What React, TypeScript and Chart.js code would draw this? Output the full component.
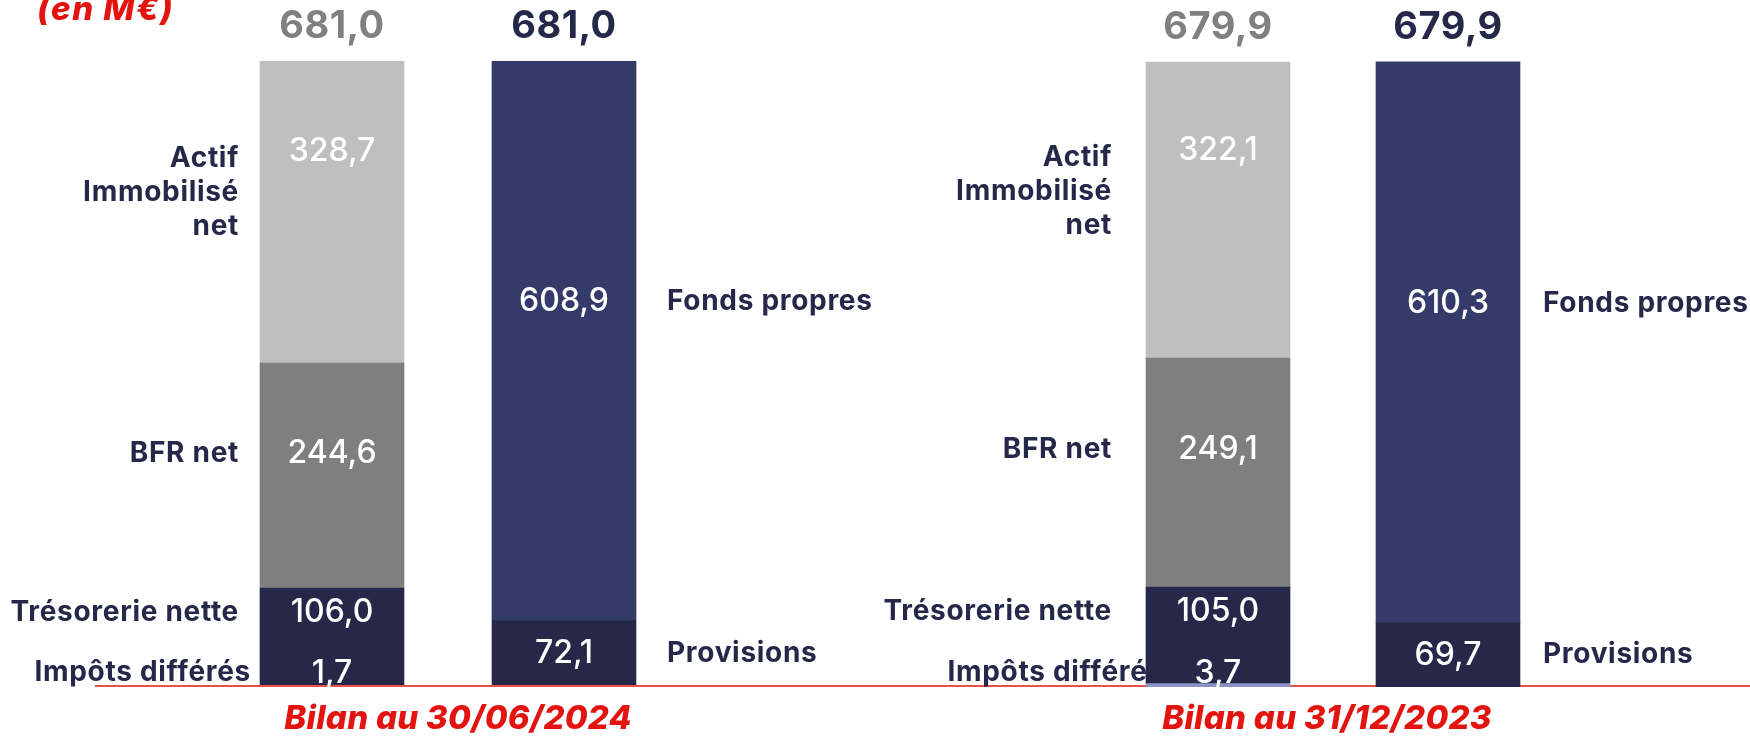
import React, { useEffect, useRef } from 'react';
import { Chart, registerables } from 'chart.js';

Chart.register(...registerables);

// ---------- DATA ----------
const barKeys = ['Actif', 'Passif'];
const periodTitles = ['Bilan au 30/06/2024', 'Bilan au 31/12/2023'];
const unitLabel = '(en M€)';

const totalActif = [681.0, 679.9];
const totalPassif = [681.0, 679.9];

const impotsDifferes = [1.7, 3.7];
const tresorerieNette = [106.0, 105.0];
const bfrNet = [244.6, 249.1];
const actifImmobiliseNet = [328.7, 322.1];
const provisions = [72.1, 69.7];
const fondsPropres = [608.9, 610.3];

// ---------- SERIES STYLE ----------
type Series = {
  name: string;
  lines: string[];
  values: number[];
  bar: number; // 0 = Actif, 1 = Passif
  color: string;
  frac: number; // label anchor within the segment (from top), -1 = near base
};

const SERIES: Series[] = [
  { name: 'Impôts différés', lines: ['Impôts différés'], values: impotsDifferes, bar: 0, color: '#8e95c6', frac: -1 },
  { name: 'Trésorerie nette', lines: ['Trésorerie nette'], values: tresorerieNette, bar: 0, color: '#252849', frac: 0.25 },
  { name: 'BFR net', lines: ['BFR net'], values: bfrNet, bar: 0, color: '#7f7f7f', frac: 0.4 },
  { name: 'Actif Immobilisé net', lines: ['Actif', 'Immobilisé', 'net'], values: actifImmobiliseNet, bar: 0, color: '#bfbfbf', frac: 0.3 },
  { name: 'Provisions', lines: ['Provisions'], values: provisions, bar: 1, color: '#252849', frac: 0.5 },
  { name: 'Fonds propres', lines: ['Fonds propres'], values: fondsPropres, bar: 1, color: '#343a69', frac: 0.43 },
];

type PanelCfg = {
  left: number;
  width: number;
  padLeft: number;
  padRight: number;
  lineFrom: number;
  lineOnTop: boolean;
  leftGap: number;
  impotsShift: number;
  rightGap: number;
  titleShift: number;
  showUnit: boolean;
};

const PANELS: PanelCfg[] = [
  { left: 0, width: 875, padLeft: 216, padRight: 195, lineFrom: 95, lineOnTop: true, leftGap: 21, impotsShift: 12, rightGap: 31, titleShift: 10, showUnit: true },
  { left: 875, width: 875, padLeft: 228, padRight: 187, lineFrom: 0, lineOnTop: false, leftGap: 34, impotsShift: 52, rightGap: 23, titleShift: -6, showUnit: false },
];

const NAVY = '#252849';
const RED = '#e3140f';
const FONT = 'Inter, "Noto Sans", sans-serif';
const fmt = (v: number) => v.toFixed(1).replace('.', ',');

function Panel({ idx, cfg }: { idx: number; cfg: PanelCfg }) {
  const ref = useRef<HTMLCanvasElement | null>(null);

  useEffect(() => {
    if (!ref.current) return;
    const yMax = Math.max(...totalActif, ...totalPassif);

    const datasets = SERIES.map((s) => ({
      label: s.name,
      data: barKeys.map((_, b) => (b === s.bar ? s.values[idx] : null)),
      backgroundColor: s.color,
      borderWidth: 0,
      barThickness: 144,
      stack: 'bilan',
    }));

    const segment = (chart: any, i: number) => {
      const el: any = chart.getDatasetMeta(i).data[SERIES[i].bar];
      const top = Math.min(el.y, el.base);
      const bottom = Math.max(el.y, el.base);
      return { x: el.x, w: el.width, top, bottom };
    };

    const labelY = (chart: any, i: number) => {
      const seg = segment(chart, i);
      const s = SERIES[i];
      if (s.frac < 0) return seg.bottom - 14;
      return seg.top + s.frac * (seg.bottom - seg.top);
    };

    const drawLine = (chart: any) => {
      const ctx = chart.ctx;
      const y0 = chart.scales.y.getPixelForValue(0) - 1;
      ctx.save();
      ctx.strokeStyle = '#e8504b';
      ctx.lineWidth = 1.8;
      ctx.beginPath();
      ctx.moveTo(cfg.lineFrom, y0);
      ctx.lineTo(chart.width, y0);
      ctx.stroke();
      ctx.restore();
    };

    const plugin = {
      id: 'bilanText',
      beforeDatasetsDraw(chart: any) {
        const ctx = chart.ctx;
        if (!cfg.lineOnTop) drawLine(chart);
        // category labels
        ctx.save();
        ctx.fillStyle = NAVY;
        ctx.font = `700 28px ${FONT}`;
        (ctx as any).letterSpacing = '0.7px';
        ctx.textBaseline = 'middle';
        SERIES.forEach((s, i) => {
          const seg = segment(chart, i);
          const y = labelY(chart, i);
          if (s.bar === 0) {
            ctx.textAlign = 'right';
            const shift = s.frac < 0 ? cfg.impotsShift : 0;
            const x = seg.x - seg.w / 2 - cfg.leftGap + shift;
            s.lines.forEach((line, k) => ctx.fillText(line, x, y + (s.lines.length > 1 ? 7 : 0) + k * 34));
          } else {
            ctx.textAlign = 'left';
            const x = seg.x + seg.w / 2 + cfg.rightGap;
            s.lines.forEach((line, k) => ctx.fillText(line, x, y + k * 34));
          }
        });
        ctx.restore();
      },
      afterDatasetsDraw(chart: any) {
        const ctx = chart.ctx;
        if (cfg.lineOnTop) drawLine(chart);
        ctx.save();
        // values inside bars
        ctx.fillStyle = '#ffffff';
        ctx.font = `500 32px ${FONT}`;
        ctx.textAlign = 'center';
        ctx.textBaseline = 'middle';
        SERIES.forEach((s, i) => {
          const seg = segment(chart, i);
          ctx.fillText(fmt(s.values[idx]), seg.x, labelY(chart, i));
        });
        // totals above bars
        ctx.font = `700 38px ${FONT}`;
        (ctx as any).letterSpacing = '0.5px';
        const totals = [totalActif[idx], totalPassif[idx]];
        const totalColors = ['#808080', NAVY];
        barKeys.forEach((_, b) => {
          const i = SERIES.findIndex((s) => s.bar === b);
          const x = segment(chart, i).x;
          const yTop = chart.scales.y.getPixelForValue(totals[b]);
          ctx.fillStyle = totalColors[b];
          ctx.fillText(fmt(totals[b]), x, yTop - 34);
        });
        // period title
        const area = chart.chartArea;
        ctx.fillStyle = RED;
        ctx.font = `italic 800 33px ${FONT}`;
        (ctx as any).letterSpacing = '0.3px';
        ctx.fillText(periodTitles[idx], (area.left + area.right) / 2 + cfg.titleShift, chart.scales.y.getPixelForValue(0) + 32);
        if (cfg.showUnit) {
          ctx.textAlign = 'left';
          ctx.textBaseline = 'alphabetic';
          ctx.font = `italic 800 33px ${FONT}`;
          (ctx as any).letterSpacing = '1.5px';
          ctx.fillText(unitLabel, 37, 20);
        }
        ctx.restore();
      },
    };

    const chart = new Chart(ref.current, {
      type: 'bar',
      data: { labels: barKeys, datasets },
      options: {
        responsive: false,
        animation: false,
        devicePixelRatio: 1,
        layout: { padding: { left: cfg.padLeft, right: cfg.padRight, top: 61, bottom: 49 } },
        plugins: { legend: { display: false }, tooltip: { enabled: false }, title: { display: false } },
        scales: {
          x: { display: false, stacked: true, offset: true, grid: { display: false } },
          y: { display: false, stacked: true, min: 0, max: yMax, grid: { display: false } },
        },
      },
      plugins: [plugin],
    });
    return () => chart.destroy();
  }, [idx, cfg]);

  return (
    <canvas
      ref={ref}
      width={cfg.width}
      height={736}
      style={{ position: 'absolute', left: cfg.left, top: 0, width: cfg.width, height: 736, display: 'block' }}
    />
  );
}

export default function App() {
  return (
    <div style={{ position: 'absolute', left: 0, top: 0, width: 1750, height: 736, background: '#ffffff', overflow: 'hidden' }}>
      {PANELS.map((cfg, i) => (
        <Panel key={i} idx={i} cfg={cfg} />
      ))}
    </div>
  );
}
